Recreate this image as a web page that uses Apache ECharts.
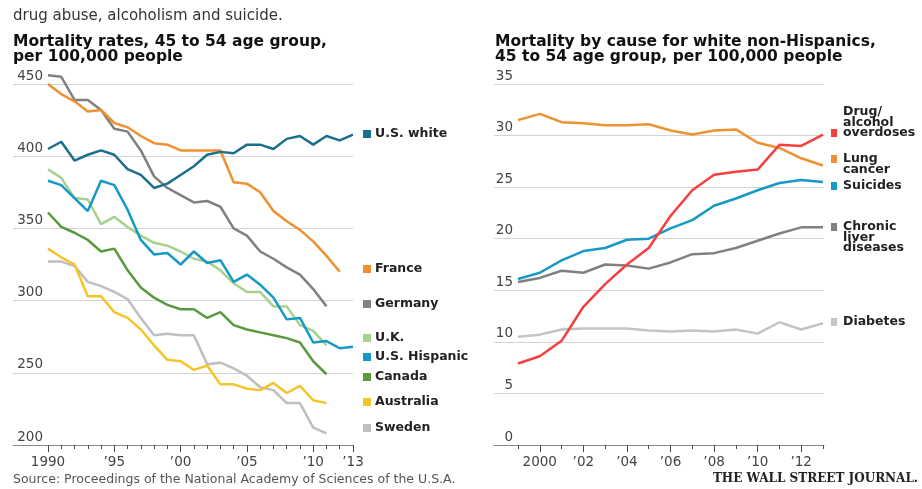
<!DOCTYPE html>
<html>
<head>
<meta charset="utf-8">
<script src="https://cdn.jsdelivr.net/npm/echarts@6/dist/echarts.min.js"></script>
<style>
  body { margin: 0; background: #fff; }
  #main { width: 922px; height: 489px; }
</style>
</head>
<body>
<div id="main"></div>
<script>
// left chart: 1990 - 2013
var yearsLeft = ['1990','1991','1992','1993','1994','1995','1996','1997','1998','1999','2000','2001',
  '2002','2003','2004','2005','2006','2007','2008','2009','2010','2011','2012','2013'];
var usWhite   = [405,410,397,401,404,401,391,387,378,381,387,393,401,403,402,408,408,405,412,414,408,414,411,415];
var france    = [450,443,438,431,432,423,420,414,409,408,404,404,404,404,382,381,375,362,355,349,341,331,320,null];
var germany   = [456,455,439,439,432,419,417,404,386,378,373,368,369,365,350,345,334,329,323,318,308,296,null,null];
var uk        = [391,385,371,370,353,358,351,345,340,338,334,329,327,321,312,306,306,296,296,283,279,269,null,null];
var usHisp    = [383,380,371,362,383,380,363,342,332,333,325,334,326,328,313,318,311,302,287,288,271,272,267,268];
var canada    = [361,351,347,342,334,336,321,309,302,297,294,294,288,292,283,280,278,276,274,271,258,249,null,null];
var australia = [336,330,325,303,303,292,288,280,269,259,258,252,255,242,242,239,238,243,236,241,231,229,null,null];
var sweden    = [327,327,324,313,310,306,301,288,276,277,276,276,256,257,253,248,240,238,229,229,212,208,null,null];
var leftTickLabels = {'1990':'1990','1995':'\u201995','2000':'\u201900','2005':'\u201905','2010':'\u201910','2013':'\u201913'};

// right chart: 1999 - 2013
var yearsRight = ['1999','2000','2001','2002','2003','2004','2005','2006','2007','2008','2009','2010','2011','2012','2013'];
var drugs    = [7.9,8.6,10.1,13.4,15.6,17.5,19.1,22.2,24.7,26.2,26.5,26.7,29.1,29.0,30.1];
var lung     = [31.5,32.1,31.3,31.2,31.0,31.0,31.1,30.5,30.1,30.5,30.6,29.3,28.8,27.8,27.1];
var suicides = [16.1,16.7,17.9,18.8,19.1,19.9,20.0,21.0,21.8,23.2,23.9,24.7,25.4,25.7,25.5];
var liver    = [15.8,16.2,16.9,16.7,17.5,17.4,17.1,17.7,18.5,18.6,19.1,19.8,20.5,21.1,21.1];
var diabetes = [10.5,10.7,11.2,11.3,11.3,11.3,11.1,11.0,11.1,11.0,11.2,10.8,11.9,11.2,11.8];
var rightTickLabels = {'2000':'2000','2002':'\u201902','2004':'\u201904','2006':'\u201906','2008':'\u201908','2010':'\u201910','2012':'\u201912'};

var leftNames  = ['U.S. white','France','Germany','U.K.','U.S. Hispanic','Canada','Australia','Sweden'];
var leftColors = ['#1b6f8c','#ef9130','#808080','#a8d18d','#1799c6','#589a3c','#f4c52a','#bfbfbf'];
var leftData   = [usWhite, france, germany, uk, usHisp, canada, australia, sweden];
var leftLabelY = [134, 269, 304, 338, 357, 377, 402, 428];

var rightNames  = ['Drug/\nalcohol\noverdoses','Lung\ncancer','Suicides','Chronic\nliver\ndiseases','Diabetes'];
var rightColors = ['#f5403f','#ef9130','#1799c6','#808080','#c4c4c4'];
var rightData   = [drugs, lung, suicides, liver, diabetes];
var rightLabelY = [122.5, 164, 186, 237.5, 322];
var rightBoxY   = [133, 159, 186, 227, 322];

var axisFont = 'DejaVu Sans';
var myChart = echarts.init(document.getElementById('main'));

var series = [];
// draw order: back to front
[7,6,5,3,4,2,1,0].forEach(function (i) {
  series.push({
    name: leftNames[i], type: 'line', xAxisIndex: 1, yAxisIndex: 1,
    data: leftData[i], showSymbol: false, clip: false, animation: false,
    lineStyle: { color: leftColors[i], width: 2.5 }
  });
});
[4,3,2,1,0].forEach(function (i) {
  series.push({
    name: rightNames[i], type: 'line', xAxisIndex: 4, yAxisIndex: 3,
    data: rightData[i], showSymbol: false, clip: false, animation: false,
    lineStyle: { color: rightColors[i], width: 2.5 }
  });
});

var graphics = [];
leftNames.forEach(function (n, i) {
  graphics.push({ type: 'rect', shape: { x: 363, y: leftLabelY[i] - 4, width: 8, height: 8 }, style: { fill: leftColors[i] } });
  graphics.push({ type: 'text', x: 375, y: leftLabelY[i], style: {
    text: n, fill: '#222', font: 'bold 12.5px "DejaVu Sans"', textVerticalAlign: 'middle' } });
});
rightNames.forEach(function (n, i) {
  graphics.push({ type: 'rect', shape: { x: 831, y: rightBoxY[i] - 4, width: 6, height: 8 }, style: { fill: rightColors[i] } });
  graphics.push({ type: 'text', x: 843, y: rightLabelY[i], style: {
    text: n, fill: '#222', font: 'bold 12.5px "DejaVu Sans"', lineHeight: 10.5, textVerticalAlign: 'middle' } });
});

function frameX(grid) {
  return { gridIndex: grid, type: 'value', min: 0, max: 1,
    axisLine: { show: true, lineStyle: { color: '#888', width: 1 } },
    axisTick: { show: false }, axisLabel: { show: false }, splitLine: { show: false } };
}
function minorX(grid, cats) {
  return { gridIndex: grid, type: 'category', data: cats, boundaryGap: false, position: 'bottom',
    axisLine: { show: false }, axisLabel: { show: false },
    axisTick: { show: true, interval: 0, length: 4, lineStyle: { color: '#444' } } };
}
function majorX(grid, cats, labels) {
  var pick = function (idx, val) { return labels[val] !== undefined; };
  return { gridIndex: grid, type: 'category', data: cats, boundaryGap: false, position: 'bottom',
    axisLine: { show: false },
    axisTick: { show: true, interval: pick, length: 7, lineStyle: { color: '#444' } },
    axisLabel: { interval: pick, margin: 10, color: '#444', fontFamily: axisFont, fontSize: 13.5,
      formatter: function (v) { return labels[v]; } } };
}
function frameY(grid, min, max, step, margin) {
  return { gridIndex: grid, type: 'value', min: min, max: max, interval: step,
    axisLine: { show: false }, axisTick: { show: false },
    splitLine: { lineStyle: { color: '#d3d3d3', width: 1 } },
    axisLabel: { inside: true, margin: margin, align: 'right', verticalAlign: 'bottom',
      padding: [0, 0, 1, 0], color: '#444', fontFamily: axisFont, fontSize: 13.5 } };
}

option = {
  backgroundColor: '#fff',
  animation: false,
  title: [
    { text: 'drug abuse, alcoholism and suicide.', left: 13, top: 9, padding: 0,
      textStyle: { fontFamily: axisFont, fontWeight: 'normal', fontSize: 15, color: '#333' } },
    { text: 'Mortality rates, 45 to 54 age group,\nper 100,000 people', left: 13, top: 34, padding: 0,
      textStyle: { fontFamily: axisFont, fontWeight: 'bold', fontSize: 15.5, lineHeight: 15, color: '#111' } },
    { text: 'Mortality by cause for white non-Hispanics,\n45 to 54 age group, per 100,000 people', left: 495, top: 34, padding: 0,
      textStyle: { fontFamily: axisFont, fontWeight: 'bold', fontSize: 15.5, lineHeight: 15, color: '#111' } },
    { text: 'Source: Proceedings of the National Academy of Sciences of the U.S.A.', left: 13, top: 473, padding: 0,
      textStyle: { fontFamily: axisFont, fontWeight: 'normal', fontSize: 12.5, color: '#555' } },
    { text: 'THE WALL STREET JOURNAL.', right: 4, top: 473, padding: 0,
      textStyle: { fontFamily: 'DejaVu Serif', fontWeight: 'bold', fontSize: 12, color: '#222' } }
  ],
  grid: [
    { left: 13, top: 84, width: 340, height: 361 },
    { left: 48, top: 84, width: 305, height: 361 },
    { left: 494, top: 84, width: 330, height: 361 },
    { left: 518, top: 84, width: 305, height: 361 }
  ],
  xAxis: [
    frameX(0),
    minorX(1, yearsLeft),
    majorX(1, yearsLeft, leftTickLabels),
    frameX(2),
    minorX(3, yearsRight),
    majorX(3, yearsRight, rightTickLabels)
  ],
  yAxis: [
    frameY(0, 200, 450, 50, 30),
    { gridIndex: 1, type: 'value', min: 200, max: 450, show: false },
    frameY(2, 0, 35, 5, 19),
    { gridIndex: 3, type: 'value', min: 0, max: 35, show: false }
  ],
  series: series,
  graphic: graphics
};

myChart.setOption(option);
</script>
</body>
</html>
